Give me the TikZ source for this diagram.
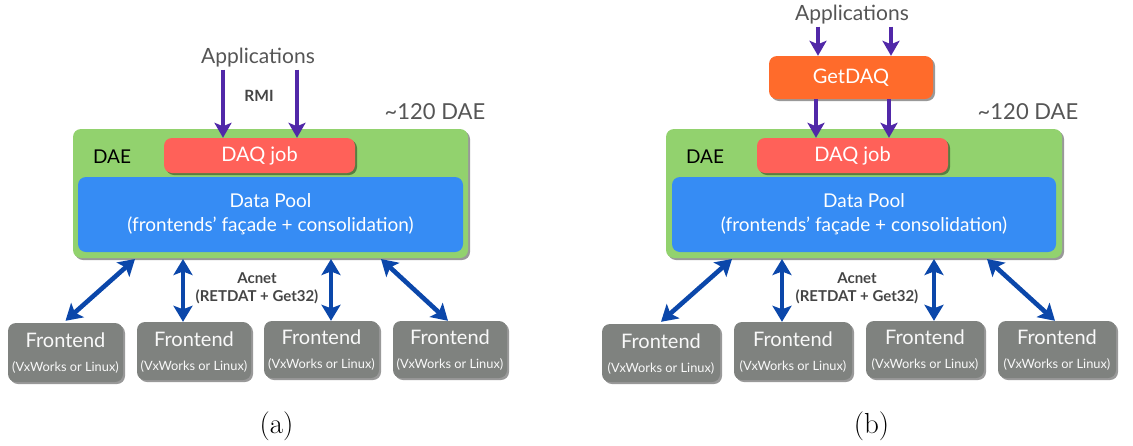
\documentclass[tikz,border=0pt]{standalone}
\usepackage{fontspec}
\newfontfamily\lato{Lato}
\usetikzlibrary{arrows.meta,shadows,calc}

\definecolor{daegreen}{HTML}{92D26E}
\definecolor{jobred}{HTML}{FF6159}
\definecolor{poolblue}{HTML}{368CF4}
\definecolor{getorange}{HTML}{FF6B2B}
\definecolor{fegray}{HTML}{7F827F}
\definecolor{apparrow}{HTML}{5128A8}
\definecolor{netarrow}{HTML}{0B47AA}
\definecolor{labelgray}{HTML}{555555}
\definecolor{boldgray}{HTML}{454545}

\tikzset{
  box/.style={rounded corners=8pt, inner sep=0pt, draw=none,
    drop shadow={shadow xshift=2pt, shadow yshift=-2pt, opacity=0.4, fill=black}},
  daebox/.style={box, fill=daegreen, minimum width=395pt, minimum height=129pt},
  jobbox/.style={box, fill=jobred, minimum width=191pt, minimum height=35pt,
    text=white, font=\lato\fontsize{20}{24}\selectfont},
  poolbox/.style={rounded corners=8pt, inner sep=0pt, fill=poolblue,
    minimum width=385pt, minimum height=75pt, text=white, align=center,
    font=\lato\fontsize{19}{24}\selectfont},
  getbox/.style={box, fill=getorange, minimum width=164pt, minimum height=43pt,
    text=white, font=\lato\fontsize{20}{24}\selectfont},
  febox/.style={box, fill=fegray, minimum width=115pt, minimum height=58pt},
  fetitle/.style={inner sep=0pt, text=white!95!gray, font=\lato\fontsize{20}{22}\selectfont},
  fesub/.style={inner sep=0pt, text=white!95!gray, font=\lato\fontsize{12.8}{15}\selectfont},
  plain/.style={inner sep=0pt, text=labelgray, font=\lato\fontsize{21}{24}\selectfont},
  daelabel/.style={inner sep=0pt, text=black, font=\lato\fontsize{19}{22}\selectfont},
  boldlabel/.style={inner sep=0pt, text=boldgray, align=center,
    font=\lato\bfseries\fontsize{15}{17.5}\selectfont},
  caption/.style={inner sep=0pt, font=\fontsize{29}{34}\selectfont},
  apparr/.style={draw=apparrow, line width=3.6pt,
    -{Stealth[length=15pt, width=17pt, inset=3.5pt]}},
  netarr/.style={draw=netarrow, line width=4.6pt,
    {Stealth[length=16pt, width=19pt, inset=3.5pt]}-{Stealth[length=16pt, width=19pt, inset=3.5pt]}}
}

\begin{document}
\begin{tikzpicture}[x=1pt, y=-1pt]
\useasboundingbox (0,0) rectangle (1133,445);

% ---------------- (a): applications talk RMI to the DAQ job ----------------
\node[daebox] (daeA) at (270.5,193.5) {};
\node[jobbox] (jobA) at (259.5,155.5) {DAQ job};
\node[poolbox] (poolA) at (270.5,214.5) {Data Pool\\(frontends’ façade + consolidation)};
\node[daelabel] (daenameA) at (112,157) {DAE};
\node[plain, font=\lato\fontsize{22}{24}\selectfont] (countA) at (435,112) {\textasciitilde 120 DAE};
\node[plain] (appA) at (258,58) {Applications};
\node[boldlabel, font=\lato\bfseries\fontsize{15.5}{18}\selectfont] (rmiA) at (259,96) {RMI};

\coordinate (pa1) at ([xshift=-36.5pt]jobA.north);
\coordinate (pa2) at ([xshift=37.5pt]jobA.north);
\draw[apparr, shorten <=2pt] (pa1 |- appA.south) -- (pa1);
\draw[apparr, shorten <=2pt] (pa2 |- appA.south) -- (pa2);

\node[febox, minimum width=115pt, minimum height=59pt] (feA1) at (65.5,352.5) {};
\node[febox, minimum width=114pt, minimum height=58pt] (feA2) at (194,351) {};
\node[febox, minimum width=115pt, minimum height=57pt] (feA3) at (321.5,349.5) {};
\node[febox, minimum width=114pt, minimum height=57pt] (feA4) at (450,349.5) {};
\foreach \f in {feA1,feA2,feA3,feA4}{
  \node[fetitle] (\f t) at ([yshift=12pt]\f.center) {Frontend};
  \node[fesub] (\f s) at ([yshift=-15pt]\f.center) {(VxWorks or Linux)};
}

\coordinate (na1) at (135,259);
\coordinate (na2) at (183,259);
\coordinate (na3) at (331,259);
\coordinate (na4) at (381,259);
\draw[netarr] (na1) -- ([yshift=2pt]feA1.north);
\draw[netarr] (na2) -- (na2 |- feA2.north);
\draw[netarr] (na3) -- (na3 |- feA3.north);
\draw[netarr] (na4) -- ([xshift=-2pt]feA4.north);
\node[boldlabel] (acnetA) at (257,288.5) {Acnet\\(RETDAT + Get32)};

\node[caption] (capA) at (276.5,426) {(a)};

% ---------------- (b): applications go through GetDAQ ----------------
\node[daebox, minimum width=396pt] (daeB) at (864,193.5) {};
\node[jobbox] (jobB) at (852.5,155.5) {DAQ job};
\node[poolbox, minimum width=384pt] (poolB) at (864,214.5) {Data Pool\\(frontends’ façade + consolidation)};
\node[daelabel] (daenameB) at (705,157) {DAE};
\node[plain, font=\lato\fontsize{22}{24}\selectfont] (countB) at (1028,112) {\textasciitilde 120 DAE};
\node[plain] (appB) at (852,15) {Applications};
\node[getbox] (getB) at (851,77.5) {GetDAQ};

\coordinate (pb1) at ([xshift=-33pt]getB.north);
\coordinate (pb2) at ([xshift=40pt]getB.north);
\draw[apparr, shorten <=2pt] (pb1 |- appB.south) -- (pb1);
\draw[apparr, shorten <=2pt] (pb2 |- appB.south) -- (pb2);
\coordinate (pb3) at ([xshift=-36.5pt]jobB.north);
\coordinate (pb4) at ([xshift=36.5pt]jobB.north);
\draw[apparr] (pb3 |- getB.south) -- (pb3);
\draw[apparr] (pb4 |- getB.south) -- (pb4);

\node[febox, minimum width=118pt, minimum height=58pt] (feB1) at (661,353) {};
\node[febox, minimum width=118pt, minimum height=58pt] (feB2) at (793,351) {};
\node[febox, minimum width=118pt, minimum height=57pt] (feB3) at (925,349.5) {};
\node[febox, minimum width=118pt, minimum height=57pt] (feB4) at (1057,349.5) {};
\foreach \f in {feB1,feB2,feB3,feB4}{
  \node[fetitle] (\f t) at ([yshift=12pt]\f.center) {Frontend};
  \node[fesub] (\f s) at ([yshift=-15pt]\f.center) {(VxWorks or Linux)};
}

\coordinate (nb1) at (732,259);
\coordinate (nb2) at (782,259);
\coordinate (nb3) at (934,259);
\coordinate (nb4) at (987,259);
\draw[netarr] (nb1) -- ([yshift=2pt]feB1.north);
\draw[netarr] (nb2) -- (nb2 |- feB2.north);
\draw[netarr] (nb3) -- (nb3 |- feB3.north);
\draw[netarr] (nb4) -- ([xshift=-2pt]feB4.north);
\node[boldlabel] (acnetB) at (857,288.5) {Acnet\\(RETDAT + Get32)};

\node[caption] (capB) at (871.5,426) {(b)};
\end{tikzpicture}
\end{document}
